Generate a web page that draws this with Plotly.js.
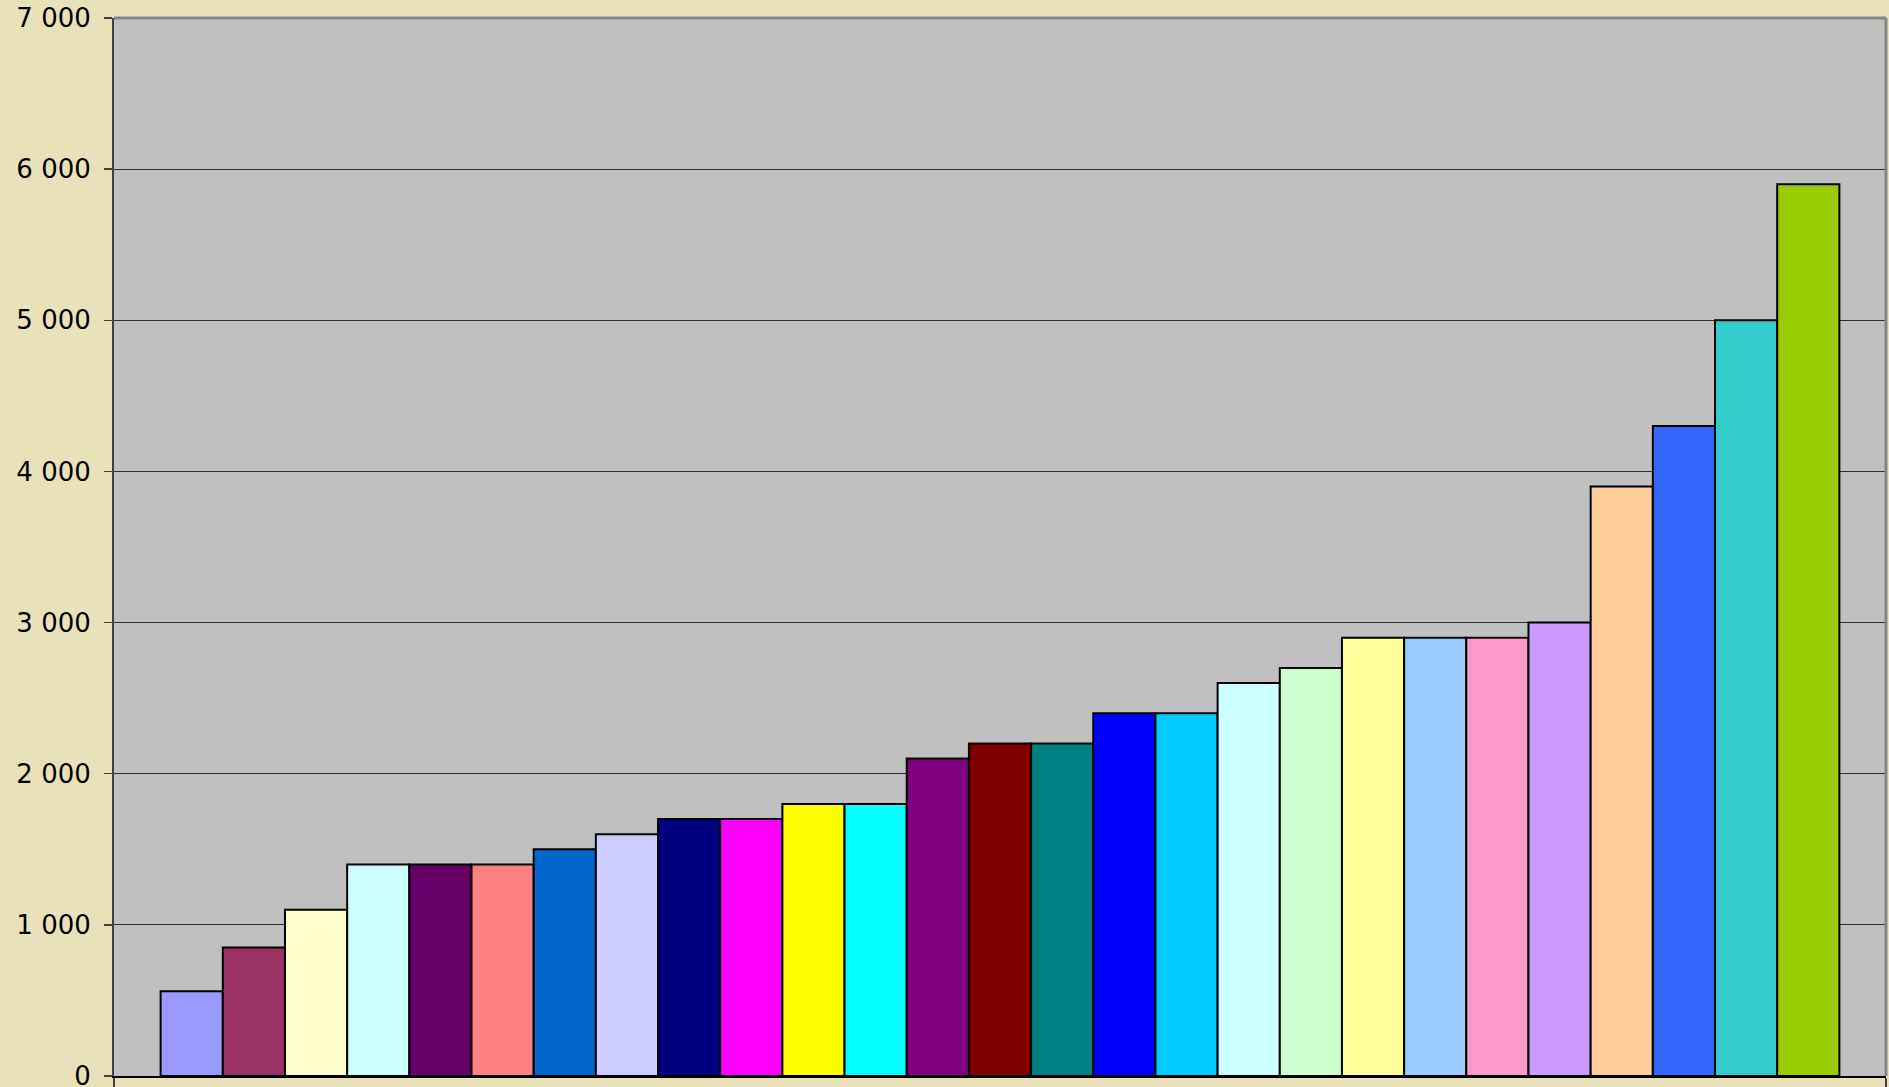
<!DOCTYPE html>
<html>
<head>
<meta charset="utf-8">
<script src="https://cdn.plot.ly/plotly-3.0.1.min.js"></script>
<style>
html,body{margin:0;padding:0;background:#E9E2B9;}
#chart{width:1889px;height:1087px;}
</style>
</head>
<body>
<div id="chart"></div>
<script>
const categories = ["1","2","3","4","5","6","7","8","9","10","11","12","13","14","15","16","17","18","19","20","21","22","23","24","25","26","27"];
const values = [560, 850, 1100, 1400, 1400, 1400, 1500, 1600, 1700, 1700, 1800, 1800, 2100, 2200, 2200, 2400, 2400, 2600, 2700, 2900, 2900, 2900, 3000, 3900, 4300, 5000, 5900];
const barColors = ["#9999FF","#993366","#FFFFCC","#CCFFFF","#660066","#FF8080","#0066CC","#CCCCFF","#000080","#FF00FF","#FFFF00","#00FFFF","#800080","#800000","#008080","#0000FF","#00CCFF","#CCFFFF","#CCFFCC","#FFFF99","#99CCFF","#FF99CC","#CC99FF","#FFCC99","#3366FF","#33CCCC","#99CC00"];
const yTickVals = [0,1000,2000,3000,4000,5000,6000,7000];
const yTickText = ["0","1 000","2 000","3 000","4 000","5 000","6 000","7 000"];

const idx = categories.map((c,i)=>i);
const trace = {
  type: 'bar',
  x: idx,
  y: values,
  text: categories,
  hoverinfo: 'y',
  textposition: 'none',
  width: 1,
  marker: {color: barColors, line: {color: '#000000', width: 2}}
};
const n = categories.length;
const pad = 0.75;
const layout = {
  width: 1889, height: 1087,
  paper_bgcolor: '#E9E2B9',
  plot_bgcolor: '#C0C0C0',
  margin: {l: 114, r: 3, t: 18, b: 11},
  showlegend: false,
  bargap: 0,
  font: {family: 'DejaVu Sans, Verdana, sans-serif', size: 26, color: '#000000'},
  xaxis: {
    range: [-0.5 - pad, n - 0.5 + pad],
    tickmode: 'array',
    tickvals: [-0.5 - pad, n - 0.5 + pad],
    showticklabels: false,
    ticks: 'outside', ticklen: 9, tickwidth: 2, tickcolor: '#404040',
    showgrid: false, zeroline: false,
    showline: true, linecolor: '#000000', linewidth: 2,
    fixedrange: true
  },
  yaxis: {
    range: [0, 7000],
    tickmode: 'array',
    tickvals: yTickVals,
    ticktext: yTickText,
    ticks: 'outside', ticklen: 8, tickwidth: 1.5, tickcolor: '#404040',
    ticklabelstandoff: 8,
    ticklabeloverflow: 'allow',
    showgrid: true, gridcolor: '#303030', gridwidth: 1,
    zeroline: false,
    showline: true, linecolor: '#404040', linewidth: 2,
    tickfont: {family: 'DejaVu Sans, Verdana, sans-serif', size: 26, color: '#000000'},
    fixedrange: true
  },
  shapes: [
    {type: 'line', xref: 'paper', yref: 'paper', x0: 0, x1: 1, y0: 1, y1: 1, line: {color: '#858585', width: 3}, layer: 'above'},
    {type: 'line', xref: 'paper', yref: 'paper', x0: 1, x1: 1, y0: 0, y1: 1, line: {color: '#858585', width: 3}, layer: 'above'}
  ]
};
Plotly.newPlot('chart', [trace], layout, {displayModeBar: false, staticPlot: true});
</script>
</body>
</html>
